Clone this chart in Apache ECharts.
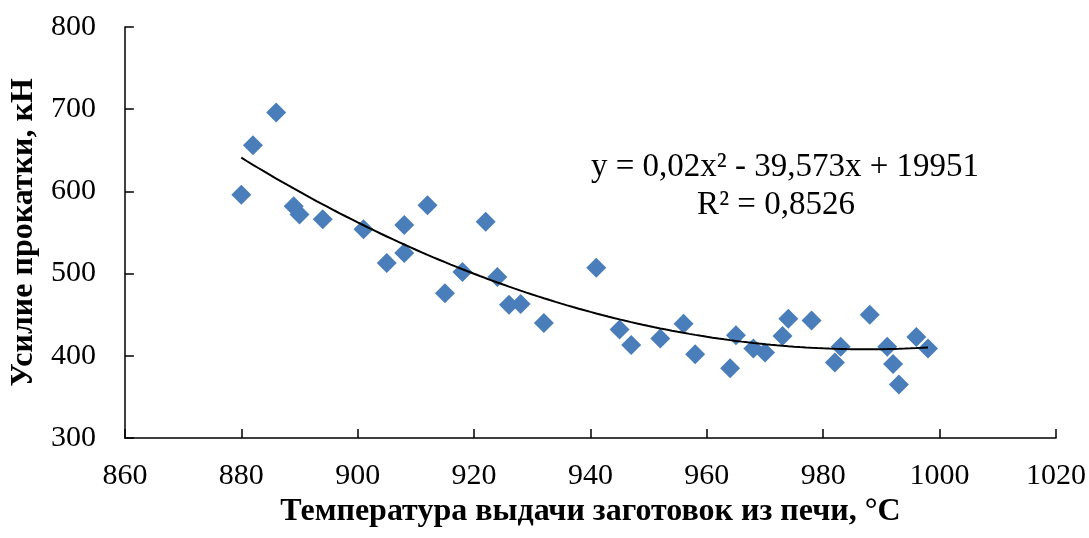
<!DOCTYPE html>
<html>
<head>
<meta charset="utf-8">
<script src="https://cdn.jsdelivr.net/npm/echarts@6/dist/echarts.min.js"></script>
<style>
  html, body { margin: 0; padding: 0; background: #fff; }
  #chart { width: 1089px; height: 538px; }
</style>
</head>
<body>
<div id="chart"></div>
<script>
// температура выдачи, °C
const temperature = [880, 882, 886, 889, 890, 894, 901, 905, 908, 908, 912, 915, 918, 922, 924, 926, 928, 932,
  941, 945, 947, 952, 956, 958, 964, 965, 968, 970, 973, 974, 978, 982, 983, 988, 991, 992, 993, 996, 998];
// усилие прокатки, кН
const force = [596, 656, 696, 582, 572, 566, 554, 513, 559, 525, 583, 476, 502, 563, 496, 462, 463, 440,
  507, 432, 413, 421, 439, 402, 385, 425, 409, 404, 424, 445, 443, 392, 411, 450, 411, 390, 365, 423, 409];

const equationText = 'y = 0,02x² - 39,573x + 19951';
const r2Text = 'R² = 0,8526';

const font = 'Liberation Serif, Times New Roman, serif';

// полиномиальный тренд 2-й степени (МНК), x центрирован для устойчивости
let fitQuadratic = (xs, ys) => {
  const n = xs.length;
  const mean = xs.reduce((a, b) => a + b, 0) / n;
  let s = [0, 0, 0, 0, 0], t = [0, 0, 0];
  xs.forEach((x, i) => {
    const u = x - mean;
    for (let k = 0; k < 5; k++) s[k] += Math.pow(u, k);
    for (let k = 0; k < 3; k++) t[k] += ys[i] * Math.pow(u, k);
  });
  // решаем 3x3 методом Гаусса
  let m = [
    [s[0], s[1], s[2], t[0]],
    [s[1], s[2], s[3], t[1]],
    [s[2], s[3], s[4], t[2]]
  ];
  for (let i = 0; i < 3; i++) {
    for (let j = i + 1; j < 3; j++) {
      const f = m[j][i] / m[i][i];
      for (let k = i; k < 4; k++) m[j][k] -= f * m[i][k];
    }
  }
  let c = [0, 0, 0];
  for (let i = 2; i >= 0; i--) {
    let v = m[i][3];
    for (let k = i + 1; k < 3; k++) v -= m[i][k] * c[k];
    c[i] = v / m[i][i];
  }
  return x => c[0] + c[1] * (x - mean) + c[2] * (x - mean) * (x - mean);
};

const trend = fitQuadratic(temperature, force);
const xMin = Math.min(...temperature), xMax = Math.max(...temperature);
let trendData = [];
for (let x = xMin; x <= xMax; x += 1) trendData.push([x, trend(x)]);

const chart = echarts.init(document.getElementById('chart'));

const option = {
  animation: false,
  backgroundColor: '#fff',
  grid: { left: 123, right: 33, top: 27, bottom: 100 },
  xAxis: {
    type: 'value',
    min: 860,
    max: 1020,
    interval: 20,
    name: 'Температура выдачи заготовок из печи, °C',
    nameLocation: 'middle',
    nameGap: 52,
    nameTextStyle: { fontFamily: font, fontSize: 32, fontWeight: 'bold', color: '#000' },
    axisLine: { show: true, lineStyle: { color: '#000', width: 1.5 } },
    axisTick: { show: true, inside: true, length: 9, lineStyle: { color: '#000', width: 1.5 } },
    axisLabel: { fontFamily: font, fontSize: 30, color: '#000', margin: 23, formatter: v => String(v) },
    splitLine: { show: false }
  },
  yAxis: {
    type: 'value',
    min: 300,
    max: 800,
    interval: 100,
    name: 'Усилие прокатки, кН',
    nameLocation: 'middle',
    nameGap: 74,
    nameRotate: 90,
    nameTextStyle: { fontFamily: font, fontSize: 32, fontWeight: 'bold', color: '#000' },
    axisLine: { show: true, lineStyle: { color: '#000', width: 1.5 } },
    axisTick: { show: true, inside: true, length: 9, lineStyle: { color: '#000', width: 1.5 } },
    axisLabel: { fontFamily: font, fontSize: 30, color: '#000', margin: 29, formatter: v => String(v) },
    splitLine: { show: false }
  },
  series: [
    {
      name: 'Усилие',
      type: 'scatter',
      symbol: 'diamond',
      symbolSize: 20,
      itemStyle: { color: '#4a7ebb', opacity: 1 },
      data: temperature.map((x, i) => [x, force[i]]),
      z: 2
    },
    {
      name: 'Тренд',
      type: 'line',
      showSymbol: false,
      smooth: false,
      lineStyle: { color: '#000', width: 2 },
      data: trendData,
      z: 3
    }
  ],
  graphic: [
    {
      type: 'text',
      x: 785,
      y: 167,
      style: {
        text: equationText,
        font: '33px ' + font,
        fill: '#000',
        textAlign: 'center',
        textVerticalAlign: 'middle'
      }
    },
    {
      type: 'text',
      x: 776,
      y: 205,
      style: {
        text: r2Text,
        font: '33px ' + font,
        fill: '#000',
        textAlign: 'center',
        textVerticalAlign: 'middle'
      }
    }
  ]
};

chart.setOption(option);
</script>
</body>
</html>
